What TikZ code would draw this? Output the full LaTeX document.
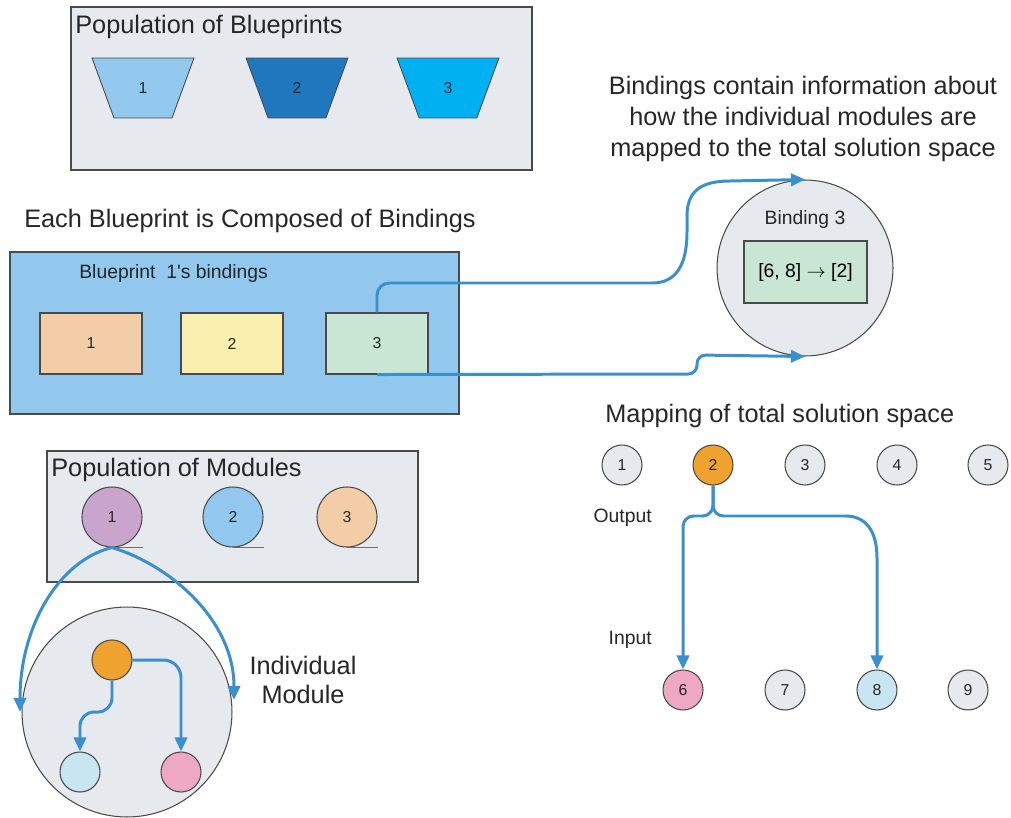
\documentclass[tikz,border=0pt]{standalone}
\usepackage{fontspec}
\setmainfont{Liberation Sans}
\usetikzlibrary{arrows.meta,shapes.geometric}

\definecolor{boxgray}{HTML}{E6E9EE}
\definecolor{bpblue}{HTML}{92C8EE}
\definecolor{bpdark}{HTML}{1F78BE}
\definecolor{bpcyan}{HTML}{00B0F0}
\definecolor{peach}{HTML}{F2CDA8}
\definecolor{lemon}{HTML}{F9F0B0}
\definecolor{mint}{HTML}{C9E5D3}
\definecolor{lilac}{HTML}{C9A5CD}
\definecolor{amber}{HTML}{F0A22E}
\definecolor{rose}{HTML}{EEA8C4}
\definecolor{pale}{HTML}{C8E6F2}
\definecolor{flowblue}{HTML}{3A8FCD}
\definecolor{edge}{HTML}{4A4A4A}

\tikzset{
  panel/.style={draw=edge, line width=0.7pt, inner sep=0pt},
  bigtext/.style={font=\fontsize{14.4}{17.6}\selectfont, text=black!85, inner sep=0pt},
  midtext/.style={font=\fontsize{11}{13}\selectfont, text=black!85, inner sep=0pt},
  numtext/.style={font=\fontsize{9}{11}\selectfont, text=black!85},
  blueprint/.style={trapezium, trapezium stretches=true, shape border rotate=180,
    trapezium angle=71, minimum width=2.04cm, minimum height=1.2cm,
    draw=edge, line width=0.5pt, numtext},
  bindbox/.style={draw=edge, line width=0.6pt, minimum width=2.04cm, minimum height=1.22cm, numtext},
  modcirc/.style={circle, draw=edge, line width=0.6pt, minimum size=1.2cm, inner sep=0pt, numtext},
  spot/.style={circle, draw=edge, line width=0.6pt, minimum size=0.8cm, inner sep=0pt, numtext},
  flow/.style={draw=flowblue, line width=1.7pt, -{Triangle[length=8pt,width=7pt]}},
}

\begin{document}
\begin{tikzpicture}[x=0.02cm, y=-0.02cm]
  \useasboundingbox (0,0) rectangle (1011,818);

  % population of blueprints
  \node[panel, fill=boxgray, minimum width=9.22cm, minimum height=3.26cm] (popbp) at (301.5,88.5) {};
  \node[bigtext, anchor=west] (popbptitle) at (75,27) {Population of Blueprints};
  \node[blueprint, fill=bpblue] (bp1) at (143,88) {1};
  \node[blueprint, fill=bpdark] (bp2) at (297,88) {2};
  \node[blueprint, fill=bpcyan] (bp3) at (448,88) {3};

  % bindings of one blueprint
  \node[bigtext] (composed) at (250,221) {Each Blueprint is Composed of Bindings};
  \node[panel, fill=bpblue, minimum width=8.98cm, minimum height=3.24cm] (bpbox) at (234.5,333) {};
  \node[midtext, anchor=west] (bptitle) at (79,273) {Blueprint\ \ 1\textquotesingle s bindings};
  \node[bindbox, fill=peach] (bd1) at (91,343.5) {1};
  \node[bindbox, fill=lemon] (bd2) at (232,343.5) {2};
  \node[bindbox, fill=mint] (bd3) at (377,343.5) {3};

  % binding detail
  \node[bigtext, align=center] (bindnote) at (803,119)
    {Bindings contain information about\\how the individual modules are\\mapped to the total solution space};
  \node[circle, draw=edge, line width=0.6pt, fill=boxgray, minimum size=3.52cm, inner sep=0pt] (bnd) at (805,268) {};
  \node[midtext] (bndtitle) at (805,220) {Binding\ 3};
  \node[draw=edge, line width=0.6pt, fill=mint, minimum width=2.46cm, minimum height=1.24cm,
        font=\fontsize{11}{13}\selectfont] (rule) at (805.5,272) {[6, 8] $\rightarrow$ [2]};

  \draw[flow] (bd3.north) [rounded corners=7pt] |- (640,283) [sharp corners]
    .. controls (676,283) and (687,265) .. (687,232) -- (687,216)
    .. controls (687,192) and (700,181) .. (730,181) -- (bnd.north);
  \draw[flow, rounded corners=5pt] (bd3.south) -- (697,374) -- (697,355) -- (bnd.south);

  % population of modules
  \node[panel, fill=boxgray, minimum width=7.42cm, minimum height=2.62cm] (popmod) at (232.5,516.5) {};
  \node[bigtext, anchor=west] (popmodtitle) at (51,470) {Population of Modules};
  \node[modcirc, fill=lilac] (mod1) at (112,517) {1};
  \node[modcirc, fill=bpblue] (mod2) at (233,517) {2};
  \node[modcirc, fill=peach] (mod3) at (347,517) {3};
  \foreach \m in {mod1,mod2,mod3}
    \draw[draw=edge!80, line width=0.6pt] (\m.south) -- ++(31,0);

  % individual module
  \node[circle, draw=edge, line width=0.6pt, fill=boxgray, minimum size=4.2cm, inner sep=0pt] (indiv) at (127,712) {};
  \node[bigtext, align=center, font=\fontsize{14.4}{17}\selectfont] (indivlabel) at (303,680) {Individual\\Module};
  \node[circle, draw=edge, line width=0.6pt, fill=amber, minimum size=0.8cm] (core) at (112,660) {};
  \node[circle, draw=edge, line width=0.6pt, fill=pale, minimum size=0.8cm] (leafl) at (80,772) {};
  \node[circle, draw=edge, line width=0.6pt, fill=rose, minimum size=0.8cm] (leafr) at (181,772) {};

  \draw[flow] (mod1.south) .. controls (60,560) and (20,625) .. (20,712);
  \draw[flow] (mod1.south) .. controls (170,565) and (234,620) .. (234,700);
  \draw[flow, rounded corners=8pt] (core.south) -- (112,712) -- (80,712) -- (leafl.north);
  \draw[flow, rounded corners=10pt] (core.east) -| (leafr.north);

  % mapping of total solution space
  \node[bigtext, anchor=west] (maptitle) at (605,416) {Mapping of total solution space};
  \node[spot, fill=boxgray] (s1) at (622,465) {1};
  \node[spot, fill=amber] (s2) at (713,465) {2};
  \node[spot, fill=boxgray] (s3) at (805,465) {3};
  \node[spot, fill=boxgray] (s4) at (897,465) {4};
  \node[spot, fill=boxgray] (s5) at (988,465) {5};
  \node[spot, fill=rose] (s6) at (683,690) {6};
  \node[spot, fill=boxgray] (s7) at (785,690) {7};
  \node[spot, fill=pale] (s8) at (877,690) {8};
  \node[spot, fill=boxgray] (s9) at (968,690) {9};
  \node[midtext, anchor=east] (outlabel) at (652,518) {Output};
  \node[midtext, anchor=east] (inlabel) at (652,640) {Input};

  \draw[flow, rounded corners=6pt] (s2.south) -- (713,516) -- (683,516) -- (s6.north);
  \draw[flow] (s2.south) [rounded corners=6pt] -- (713,516) -- (835,516) [sharp corners]
    .. controls (865,516) and (877,530) .. (877,558) -- (s8.north);
\end{tikzpicture}
\end{document}
